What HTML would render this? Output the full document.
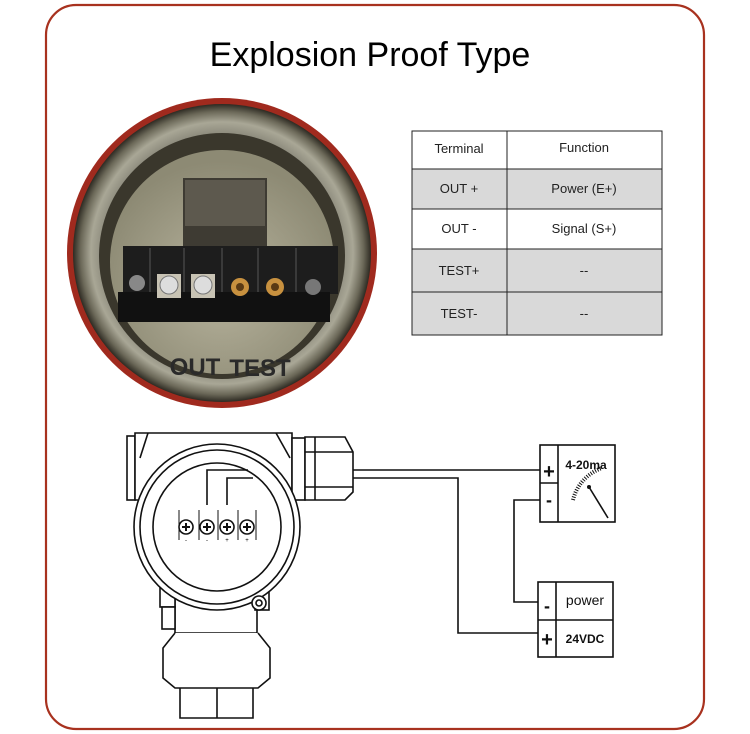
<!DOCTYPE html>
<html><head><meta charset="utf-8"><style>
html,body{margin:0;padding:0;background:#fff;}
svg{display:block;}
text{font-family:"Liberation Sans",Arial,sans-serif;}
</style></head><body>
<svg width="750" height="734" viewBox="0 0 750 734" xmlns="http://www.w3.org/2000/svg">
<rect x="46" y="5" width="658" height="724" rx="30" fill="#fff" stroke="#a8321f" stroke-width="2.2"/>
<text x="370" y="66" font-size="34" text-anchor="middle" fill="#000">Explosion Proof Type</text>

<defs>
<radialGradient id="ring" cx="50%" cy="50%" r="50%">
<stop offset="0.80" stop-color="#8c8a7c"/>
<stop offset="0.88" stop-color="#a9a796"/>
<stop offset="0.95" stop-color="#6b6858"/>
<stop offset="1" stop-color="#2d2a22"/>
</radialGradient>
<radialGradient id="inner" cx="50%" cy="60%" r="55%">
<stop offset="0" stop-color="#b8b49e"/>
<stop offset="1" stop-color="#8d8a74"/>
</radialGradient>
</defs>
<circle cx="222" cy="253" r="155" fill="#a02a1e"/>
<circle cx="222" cy="253" r="149" fill="url(#ring)"/>
<circle cx="222" cy="256" r="123" fill="#3a372c"/>
<circle cx="222" cy="262" r="112" fill="url(#inner)"/>
<rect x="183" y="178" width="84" height="70" fill="#3e3b33"/>
<rect x="185" y="180" width="80" height="46" fill="#5d594e"/>
<rect x="123" y="246" width="215" height="48" fill="#1d1d1d"/>
<rect x="118" y="292" width="212" height="30" fill="#111"/>
<g stroke="#3a3a3a" stroke-width="2"><line x1="150" y1="248" x2="150" y2="292"/><line x1="184" y1="248" x2="184" y2="292"/><line x1="222" y1="248" x2="222" y2="292"/><line x1="258" y1="248" x2="258" y2="292"/><line x1="296" y1="248" x2="296" y2="292"/></g>
<circle cx="137" cy="283" r="8" fill="#888"/>
<rect x="157" y="274" width="24" height="24" fill="#c8c3b4"/><circle cx="169" cy="285" r="9" fill="#ddd" stroke="#777"/>
<rect x="191" y="274" width="24" height="24" fill="#c8c3b4"/><circle cx="203" cy="285" r="9" fill="#ddd" stroke="#777"/>
<circle cx="240" cy="287" r="9" fill="#c8913f"/><circle cx="240" cy="287" r="4" fill="#5a3a14"/>
<circle cx="275" cy="287" r="9" fill="#c8913f"/><circle cx="275" cy="287" r="4" fill="#5a3a14"/>
<circle cx="313" cy="287" r="8" fill="#777"/>
<text x="195" y="375" font-size="24" fill="#2a2a2a" text-anchor="middle" font-weight="bold">OUT</text>
<text x="260" y="376" font-size="24" fill="#2a2a2a" text-anchor="middle" font-weight="bold">TEST</text>

<g font-size="13" fill="#222" text-anchor="middle">
<rect x="412" y="169" width="250" height="40" fill="#d9d9d9"/>
<rect x="412" y="249" width="250" height="86" fill="#d9d9d9"/>
<g stroke="#222" stroke-width="1" fill="none">
<rect x="412" y="131" width="250" height="204"/>
<line x1="507" y1="131" x2="507" y2="335"/>
<line x1="412" y1="169" x2="662" y2="169"/>
<line x1="412" y1="209" x2="662" y2="209"/>
<line x1="412" y1="249" x2="662" y2="249"/>
<line x1="412" y1="292" x2="662" y2="292"/>
</g>
<text x="459" y="153">Terminal</text><text x="584" y="152">Function</text>
<text x="459" y="193">OUT +</text><text x="584" y="193">Power (E+)</text>
<text x="459" y="233">OUT -</text><text x="584" y="233">Signal (S+)</text>
<text x="459" y="275">TEST+</text><text x="584" y="275">--</text>
<text x="459" y="318">TEST-</text><text x="584" y="318">--</text>
</g>

<g stroke="#111" stroke-width="1.6" fill="none">
<rect x="127" y="436" width="8" height="64" fill="#fff"/>
<path d="M135 433 H292 V500 H135 Z" fill="#fff"/>
<line x1="148" y1="433" x2="140" y2="458"/><line x1="276" y1="433" x2="290" y2="458"/>
<rect x="292" y="438" width="13" height="62" fill="#fff"/>
<path d="M305 437 H345 L353 452 V492 L345 500 H305 Z" fill="#fff"/>
<line x1="315" y1="437" x2="315" y2="500"/><line x1="305" y1="452" x2="353" y2="452"/><line x1="305" y1="487" x2="353" y2="487"/>
<path d="M175 583 V633 H257 V583" fill="#fff"/>
<rect x="160" y="585" width="15" height="22" fill="#fff"/><rect x="162" y="607" width="13" height="22" fill="#fff"/>
<rect x="255" y="588" width="14" height="22" fill="#fff"/>
<path d="M175 633 L163 648 V678 L175 688 H258 L270 678 V648 L258 633" fill="#fff"/>
<path d="M180 688 V718 H217 V688 M217 718 H253 V688"/>
<circle cx="217" cy="527" r="83" fill="#fff"/>
<circle cx="217" cy="527" r="77"/>
<circle cx="217" cy="527" r="64"/>
<circle cx="259" cy="603" r="7" fill="#fff"/><circle cx="259" cy="603" r="3"/>
<path d="M207 505 V470 H248 M227 505 V478 H253"/>
<g stroke-width="1"><line x1="179" y1="510" x2="179" y2="540"/><line x1="199" y1="510" x2="199" y2="540"/><line x1="218" y1="510" x2="218" y2="540"/><line x1="238" y1="510" x2="238" y2="540"/><line x1="256" y1="510" x2="256" y2="540"/></g>
<g fill="#fff"><circle cx="186" cy="527" r="7"/><circle cx="207" cy="527" r="7"/><circle cx="227" cy="527" r="7"/><circle cx="247" cy="527" r="7"/></g>
<path d="M182 527h8M186 523v8M203 527h8M207 523v8M223 527h8M227 523v8M243 527h8M247 523v8" stroke-width="2"/>
<path d="M353 470 H540 M353 478 H458 V633 H538 M540 500 H514 V602 H538"/>
<rect x="540" y="445" width="75" height="77" fill="#fff"/>
<line x1="558" y1="445" x2="558" y2="522"/><line x1="540" y1="483" x2="558" y2="483"/>
<path d="M573 500 A45 45 0 0 1 602 468" stroke-width="4" stroke-dasharray="1 1.5"/>
<line x1="589" y1="487" x2="608" y2="518"/>
<rect x="538" y="582" width="75" height="75" fill="#fff"/>
<line x1="556" y1="582" x2="556" y2="657"/><line x1="538" y1="620" x2="613" y2="620"/>
</g>
<circle cx="589" cy="487" r="2" fill="#111"/>
<g fill="#111" font-weight="bold">
<text x="549" y="478" font-size="20" text-anchor="middle">+</text>
<text x="549" y="506" font-size="18" text-anchor="middle">-</text>
<text x="586" y="469" font-size="12" text-anchor="middle">4-20ma</text>
<text x="547" y="612" font-size="18" text-anchor="middle">-</text>
<text x="547" y="646" font-size="20" text-anchor="middle">+</text>
<text x="585" y="605" font-size="14" text-anchor="middle" font-weight="normal">power</text>
<text x="585" y="643" font-size="12" text-anchor="middle">24VDC</text>
</g>
<text x="186" y="542" font-size="6" text-anchor="middle">-</text><text x="207" y="542" font-size="6" text-anchor="middle">-</text>
<text x="227" y="542" font-size="6" text-anchor="middle">+</text><text x="247" y="542" font-size="6" text-anchor="middle">+</text>
</svg>
</body></html>
